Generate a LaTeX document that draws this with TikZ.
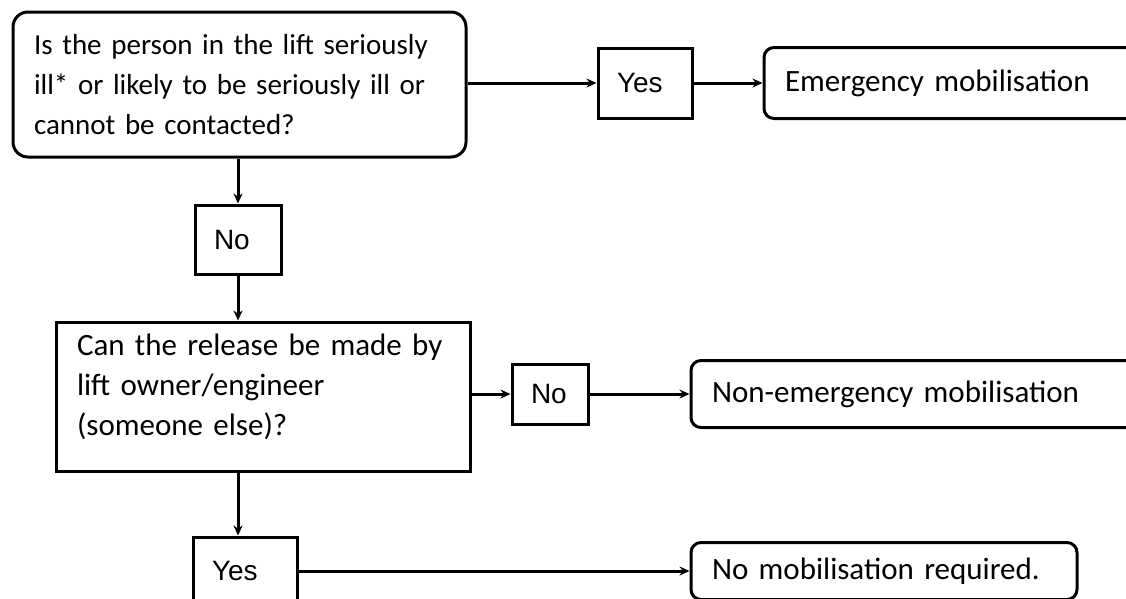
\documentclass[tikz,border=0pt]{standalone}
\usepackage{fontspec}
\setmainfont{Carlito}
\newfontfamily\yesnofont{Liberation Sans}
\usetikzlibrary{arrows.meta}
\tikzset{
  question/.style={draw,line width=3pt,align=left,inner xsep=21pt,inner ysep=0pt,font=\fontsize{31}{40}\selectfont},
  answer/.style={draw,line width=3pt,align=left,inner xsep=19pt,inner ysep=0pt,font=\yesnofont\fontsize{28}{34}\selectfont},
  outcome/.style={question,rounded corners=10pt},
}

\begin{document}
\begin{tikzpicture}[x=1pt,y=-1pt]
    \path[use as bounding box] (0,0) rectangle (1126,598);
    \clip (0,0) rectangle (1126,598);
    \node[question,rounded corners=15pt,text width=411pt,minimum height=145pt,font=\fontsize{29}{40}\selectfont] (1) at (239.5,84.5) {Is the person in the lift seriously\\ ill* or likely to be seriously ill or\\ cannot be contacted?};
    \node[answer,text width=56pt,minimum height=70pt] (2) at (645,83) {Yes};
    \node[outcome,text width=354pt,minimum height=71pt] (3) at (962,83) {Emergency mobilisation};
    \node[answer,text width=48pt,minimum height=69pt] (4) at (238,239.5) {No};
    \node[question,text width=372pt,minimum height=149pt] (5) at (263,396.5) {Can the release be made by\\ lift owner/engineer\\ (someone else)?\rule[-24pt]{0pt}{0pt}};
    \node[answer,text width=38pt,minimum height=60pt] (6) at (550,394) {No};
    \node[outcome,text width=427pt,minimum height=67pt] (7) at (925.5,394) {Non-emergency mobilisation};
    \node[answer,text width=66pt,minimum height=68pt] (8) at (245,571) {Yes};
    \node[outcome,text width=344pt,minimum height=57pt] (9) at (884,571) {No mobilisation required.};

    \path[-{Stealth[length=10pt,width=9pt]},line width=3pt]
    (1.east |- 2) edge (2)
    (2) edge (3)
    (1.south -| 4) edge (4)
    (4) edge (5.north -| 4)
    (5.east |- 6) edge (6)
    (6) edge (7)
    (5.south -| 4) edge (8.north -| 4)
    (8) edge (9)
    ;
\end{tikzpicture}
\end{document}
